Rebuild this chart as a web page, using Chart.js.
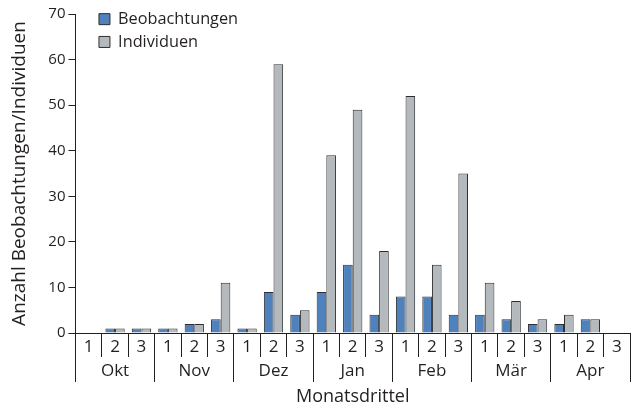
<!DOCTYPE html>
<html>
<head>
<meta charset="utf-8">
<script src="https://cdn.jsdelivr.net/npm/chart.js@4/dist/chart.umd.min.js"></script>
<style>
  html, body { margin: 0; padding: 0; background: #ffffff; }
  #wrap { width: 638px; height: 409px; position: relative; }
</style>
</head>
<body>
<div id="wrap"><canvas id="c" width="638" height="409"></canvas></div>
<script>
const thirds = ["1","2","3","1","2","3","1","2","3","1","2","3","1","2","3","1","2","3","1","2","3"];
const months = ["Okt","Nov","Dez","Jan","Feb","Mär","Apr"];
const beobachtungen = [0,1,1, 1,2,3, 1,9,4, 9,15,4, 8,8,4, 4,3,2, 2,3,0];
const individuen    = [0,1,1, 1,2,11, 1,59,5, 39,49,18, 52,15,35, 11,7,3, 4,3,0];
const yTicks = [0,10,20,30,40,50,60,70];

const FONT = "'Open Sans', 'Noto Sans', sans-serif";
const INK = '#231f20';

const legendShift = {
  id: 'legendShift',
  afterLayout(chart) {
    if (chart.legend) {
      chart.legend.left = chart.chartArea.left + 17;
      chart.legend.top = chart.chartArea.top - 9.5;
    }
  }
};

new Chart(document.getElementById('c'), {
  type: 'bar',
  data: {
    labels: thirds,
    datasets: [
      { label: 'Beobachtungen', data: beobachtungen, backgroundColor: '#4f81bd', borderColor: '#2e2e2e', borderWidth: 1, xAxisID: 'x' },
      { label: 'Individuen', data: individuen, backgroundColor: '#b4b9be', borderColor: '#2e2e2e', borderWidth: 1, xAxisID: 'x' }
    ]
  },
  options: {
    responsive: false,
    animation: false,
    devicePixelRatio: 1,
    layout: { padding: { top: 14, right: 8, bottom: 0, left: 0 } },
    datasets: { bar: { categoryPercentage: 0.73, barPercentage: 1.0 } },
    plugins: {
      legend: {
        position: 'chartArea',
        align: 'start',
        labels: {
          boxWidth: 11, boxHeight: 11, padding: 6.5,
          color: INK,
          font: { family: FONT, size: 16.3 }
        }
      },
      tooltip: { enabled: false },
      title: { display: false }
    },
    scales: {
      x: {
        type: 'category',
        position: 'bottom',
        weight: 1,
        offset: true,
        grid: { display: true, drawOnChartArea: false, offset: true, tickLength: 24, color: INK, lineWidth: 1 },
        border: { display: true, color: INK, width: 1 },
        ticks: { color: INK, font: { family: FONT, size: 17 }, padding: -19.7, maxRotation: 0, autoSkip: false },
        afterFit(scale) { scale.height = 24; }
      },
      x2: {
        type: 'category',
        position: 'bottom',
        weight: 2,
        labels: months,
        offset: true,
        grid: { display: true, drawOnChartArea: false, offset: true, tickLength: 25, color: INK, lineWidth: 1 },
        border: { display: false },
        ticks: { color: INK, font: { family: FONT, size: 17 }, padding: -21.2, maxRotation: 0, autoSkip: false },
        title: { display: true, text: 'Monatsdrittel', color: INK, font: { family: FONT, size: 18 }, padding: { top: 26.4, bottom: 1 } }
      },
      y: {
        min: 0, max: 70,
        afterBuildTicks(scale) { scale.ticks = yTicks.map(v => ({ value: v })); },
        grid: { display: true, drawOnChartArea: false, tickLength: 7, color: INK, lineWidth: 1 },
        border: { display: true, color: INK, width: 1 },
        ticks: { color: INK, font: { family: FONT, size: 15 }, padding: 3 },
        title: { display: true, text: 'Anzahl Beobachtungen/Individuen', color: INK, font: { family: FONT, size: 19 }, padding: { top: 8.5, bottom: 14 } }
      }
    }
  },
  plugins: [legendShift]
});
</script>
</body>
</html>
